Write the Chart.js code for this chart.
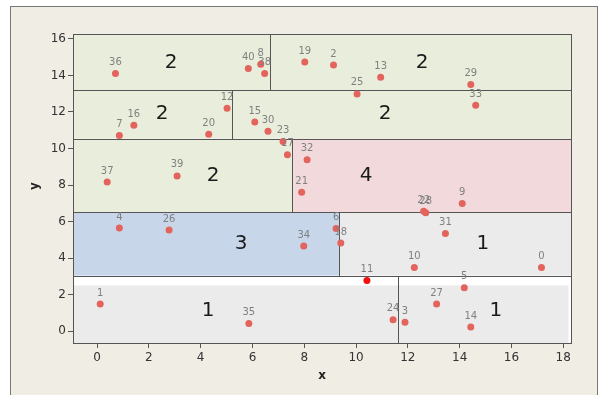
<!DOCTYPE html>
<html>
<head>
<meta charset="utf-8">
<script src="https://cdn.jsdelivr.net/npm/chart.js@4"></script>
<style>
  html, body { margin: 0; padding: 0; background: #fff; }
  #wrap { width: 600px; height: 395px; }
</style>
</head>
<body>
<div id="wrap"><canvas id="c" width="600" height="395"></canvas></div>
<script>
// point ids and coordinates
const pointIds = [36, 40, 8, 38, 19, 2, 13, 25, 29, 33, 12, 16, 7, 20, 15, 30, 23, 17, 32, 37, 39, 21, 9, 22, 28, 31,
                  4, 26, 34, 6, 18, 10, 0, 11, 5, 27, 1, 35, 24, 3, 14];
const pointX = [0.71, 5.84, 6.32, 6.47, 8.02, 9.13, 10.95, 10.04, 14.43, 14.62, 5.02, 1.42, 0.86, 4.31, 6.09, 6.60, 7.18, 7.35, 8.11, 0.39, 3.09, 7.90, 14.10, 12.61, 12.69, 13.45,
                0.86, 2.78, 7.98, 9.23, 9.41, 12.25, 17.16, 10.42, 14.18, 13.11, 0.12, 5.86, 11.43, 11.89, 14.43];
const pointY = [14.11, 14.38, 14.62, 14.11, 14.73, 14.57, 13.90, 12.99, 13.50, 12.37, 12.21, 11.27, 10.71, 10.78, 11.45, 10.94, 10.38, 9.66, 9.38, 8.17, 8.50, 7.61, 6.99, 6.56, 6.48, 5.34,
                5.65, 5.54, 4.66, 5.62, 4.82, 3.48, 3.48, 2.77, 2.37, 1.48, 1.48, 0.42, 0.62, 0.49, 0.22];
const selectedId = 11;

// partition leaves
const leafX0 = [-0.93, 6.68, -0.93, 5.21, -0.93, 7.53, -0.93, 9.34, -0.93, 11.62];
const leafX1 = [6.68, 18.3, 5.21, 18.3, 7.53, 18.3, 9.34, 18.3, 11.62, 18.3];
const leafY0 = [13.2, 13.2, 10.54, 10.54, 6.52, 6.52, 3.04, 3.04, -0.65, -0.65];
const leafY1 = [16.27, 16.27, 13.2, 13.2, 10.54, 10.54, 6.52, 6.52, 3.04, 3.04];
const leafClass = ['2', '2', '2', '2', '2', '4', '3', '1', '1', '1'];
const leafLabelX = [2.86, 12.55, 2.51, 11.12, 4.48, 10.39, 5.56, 14.9, 4.29, 15.4];
const leafLabelY = [14.67, 14.67, 11.9, 11.9, 8.48, 8.48, 4.78, 4.78, 1.14, 1.14];

const xTicks = [0, 2, 4, 6, 8, 10, 12, 14, 16, 18];
const yTicks = [0, 2, 4, 6, 8, 10, 12, 14, 16];

const classColors = { '1': '#EBEBEB', '2': '#E9EDDC', '3': '#C8D6EA', '4': '#F2DADC' };

// frame and leaf rectangles
const partitionPlugin = {
    id: 'partition',
    beforeDraw(chart) {
        const ctx = chart.ctx;
        ctx.save();
        ctx.fillStyle = '#fff';
        ctx.fillRect(0, 0, chart.width, chart.height);
        ctx.fillStyle = '#F0EDE5';
        ctx.fillRect(10, 6, 588, 400);
        ctx.strokeStyle = '#777';
        ctx.lineWidth = 1;
        ctx.strokeRect(10.5, 6.5, 587, 400);
        ctx.restore();
    },
    beforeDatasetsDraw(chart) {
        const ctx = chart.ctx;
        const xs = chart.scales.x, ys = chart.scales.y;
        const area = chart.chartArea;
        ctx.save();
        ctx.fillStyle = '#fff';
        ctx.fillRect(area.left, area.top, area.right - area.left, area.bottom - area.top);
        leafClass.forEach((cls, i) => {
            let top = leafY1[i];
            let right = leafX1[i];
            // bottom leaves are shaded only below y=2.5
            if (leafY0[i] < 0) { top = 2.5; if (right > 18.2) right = 18.2; }
            const l = xs.getPixelForValue(leafX0[i]);
            const r = xs.getPixelForValue(right);
            const t = ys.getPixelForValue(top);
            const b = ys.getPixelForValue(leafY0[i]);
            ctx.fillStyle = classColors[cls];
            ctx.fillRect(l, t, r - l, b - t);
        });
        ctx.strokeStyle = '#555';
        ctx.lineWidth = 1;
        leafClass.forEach((cls, i) => {
            const l = Math.round(xs.getPixelForValue(leafX0[i])) + 0.5;
            const r = Math.round(xs.getPixelForValue(leafX1[i])) + 0.5;
            const t = Math.round(ys.getPixelForValue(leafY1[i])) + 0.5;
            const b = Math.round(ys.getPixelForValue(leafY0[i])) + 0.5;
            ctx.strokeRect(l, t, r - l, b - t);
        });
        ctx.fillStyle = '#1a1a1a';
        ctx.font = '20px "DejaVu Sans"';
        ctx.textAlign = 'center';
        ctx.textBaseline = 'middle';
        leafClass.forEach((cls, i) => {
            ctx.fillText(cls, xs.getPixelForValue(leafLabelX[i]), ys.getPixelForValue(leafLabelY[i]));
        });
        ctx.restore();
    },
    afterDatasetsDraw(chart) {
        const ctx = chart.ctx;
        const xs = chart.scales.x, ys = chart.scales.y;
        ctx.save();
        ctx.fillStyle = '#808080';
        ctx.font = '10px "DejaVu Sans"';
        ctx.textAlign = 'center';
        ctx.textBaseline = 'middle';
        pointIds.forEach((id, i) => {
            ctx.fillText(String(id), xs.getPixelForValue(pointX[i]), ys.getPixelForValue(pointY[i]) - 11);
        });
        // axis titles
        ctx.fillStyle = '#222';
        ctx.font = 'bold 12px "DejaVu Sans"';
        ctx.fillText('x', 322, 376);
        ctx.translate(35, 186);
        ctx.rotate(-Math.PI / 2);
        ctx.fillText('y', 0, 0);
        ctx.restore();
    }
};

const points = pointIds.map((id, i) => ({ x: pointX[i], y: pointY[i], id: id }));

new Chart(document.getElementById('c').getContext('2d'), {
    type: 'scatter',
    data: {
        datasets: [{
            data: points,
            pointRadius: 3.5,
            pointHoverRadius: 3.5,
            pointBorderWidth: 0,
            pointBackgroundColor: c => (c.raw && c.raw.id === selectedId) ? '#F01010' : '#E2645C'
        }]
    },
    options: {
        responsive: false,
        animation: false,
        layout: { padding: { left: 0, top: 34, right: 29, bottom: 0 } },
        plugins: { legend: { display: false }, tooltip: { enabled: false } },
        scales: {
            x: {
                type: 'linear',
                min: -0.93,
                max: 18.3,
                afterBuildTicks: s => { s.ticks = xTicks.map(v => ({ value: v })); },
                afterFit: s => { s.height = 52; },
                grid: { drawOnChartArea: false, tickLength: 5, color: '#555' },
                border: { color: '#555' },
                ticks: { color: '#333', font: { family: 'DejaVu Sans', size: 12 }, padding: 3, maxRotation: 0 }
            },
            y: {
                type: 'linear',
                min: -0.65,
                max: 16.27,
                afterBuildTicks: s => { s.ticks = yTicks.map(v => ({ value: v })); },
                afterFit: s => { s.width = 73; },
                grid: { drawOnChartArea: false, tickLength: 5, color: '#555' },
                border: { color: '#555' },
                ticks: { color: '#333', font: { family: 'DejaVu Sans', size: 12 }, padding: 2 }
            }
        }
    },
    plugins: [partitionPlugin]
});
</script>
</body>
</html>
